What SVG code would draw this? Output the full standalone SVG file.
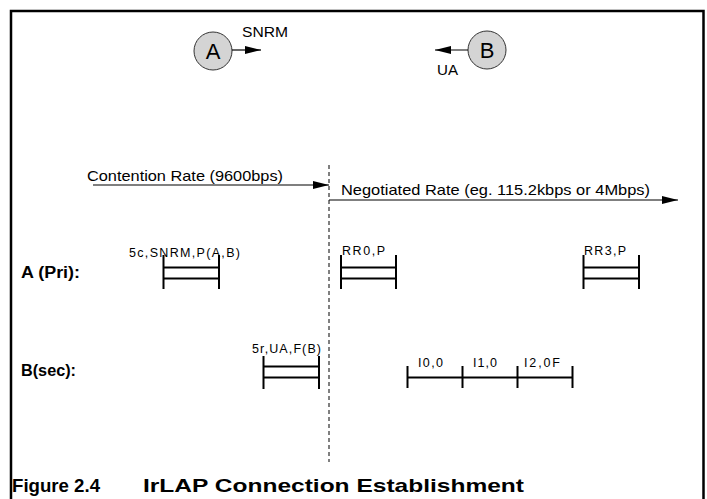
<svg xmlns="http://www.w3.org/2000/svg" width="707" height="499" viewBox="0 0 707 499">
<style>
.t{font-family:"Liberation Sans",Arial,sans-serif;fill:#000}
.n{font-size:15px}
.s{font-size:12.5px}
.b{font-size:16px;font-weight:bold}
.c{font-size:19px;font-weight:bold}
.bar{stroke:#000;stroke-width:2;fill:none}
.node{fill:#d4d4d4;stroke:#333;stroke-width:1}
.ln{stroke:#000;stroke-width:1.2;fill:none}
</style>
<defs>
<marker id="ah" markerWidth="16" markerHeight="8" refX="16" refY="4" orient="auto" markerUnits="userSpaceOnUse">
<path d="M0,0 L16,4 L0,8 Z" fill="#000"/>
</marker>
</defs>
<rect x="0" y="0" width="707" height="499" fill="#fff"/>
<path d="M11,499 V11 H703.5 V499" fill="none" stroke="#000" stroke-width="2.5"/>
<g id="nodeA">
<circle class="node" cx="213" cy="51" r="19"/>
<text class="t" x="213" y="59" font-size="22" text-anchor="middle">A</text>
</g>
<g id="nodeB">
<circle class="node" cx="487" cy="50" r="19"/>
<text class="t" x="487" y="58" font-size="22" text-anchor="middle">B</text>
</g>
<g id="connectors">
<line class="ln" x1="232" y1="50" x2="261" y2="50" marker-end="url(#ah)"/>
<line class="ln" x1="468" y1="50" x2="435" y2="50" marker-end="url(#ah)"/>
<line class="ln" x1="93" y1="185" x2="329" y2="185" marker-end="url(#ah)"/>
<line class="ln" x1="329" y1="200" x2="678" y2="200" marker-end="url(#ah)"/>
<line x1="329" y1="165" x2="329" y2="462" stroke="#000" stroke-width="1" stroke-dasharray="4,3"/>
</g>
<g id="labels">
<text class="t n" x="242" y="37" textLength="46" lengthAdjust="spacingAndGlyphs">SNRM</text>
<text class="t n" x="437" y="75" textLength="21" lengthAdjust="spacingAndGlyphs">UA</text>
<text class="t n" x="87" y="181" textLength="196" lengthAdjust="spacingAndGlyphs">Contention Rate (9600bps)</text>
<text class="t n" x="341" y="195" textLength="309" lengthAdjust="spacingAndGlyphs">Negotiated Rate (eg. 115.2kbps or 4Mbps)</text>
<text class="t b" x="21" y="278" textLength="59" lengthAdjust="spacingAndGlyphs">A (Pri):</text>
<text class="t b" x="21" y="376" textLength="55" lengthAdjust="spacingAndGlyphs">B(sec):</text>
</g>
<g id="frameA1">
<path class="bar" d="M163.5,255 V289 M219,255 V289 M163.5,267.5 H219 M163.5,278.5 H219"/>
<text class="t s" x="129" y="257" textLength="111" lengthAdjust="spacing">5c,SNRM,P(A,B)</text>
</g>
<g id="frameA2">
<path class="bar" d="M341,255 V289 M396,255 V289 M341,267.5 H396 M341,278.5 H396"/>
<text class="t s" x="342" y="255" textLength="43" lengthAdjust="spacing">RR0,P</text>
</g>
<g id="frameA3">
<path class="bar" d="M583.5,255 V289 M639,255 V289 M583.5,267.5 H639 M583.5,278.5 H639"/>
<text class="t s" x="584" y="255" textLength="42" lengthAdjust="spacing">RR3,P</text>
</g>
<g id="frameB1">
<path class="bar" d="M263.5,356 V389 M319,356 V389 M263.5,366.5 H319 M263.5,377.5 H319"/>
<text class="t s" x="252" y="353" textLength="69" lengthAdjust="spacing">5r,UA,F(B)</text>
</g>
<g id="frameB2">
<path class="bar" d="M407.5,366 V388 M462.5,366 V388 M517.5,366 V388 M572.5,366 V388 M407.5,377.5 H572.5"/>
<text class="t s" x="418" y="367" textLength="25" lengthAdjust="spacing">I0,0</text>
<text class="t s" x="473" y="367" textLength="24" lengthAdjust="spacing">I1,0</text>
<text class="t s" x="524" y="367" textLength="36" lengthAdjust="spacing">I2,0F</text>
</g>
<g id="caption">
<text class="t c" x="12" y="492" textLength="88" lengthAdjust="spacingAndGlyphs">Figure 2.4</text>
<text class="t c" x="143" y="492" textLength="381" lengthAdjust="spacingAndGlyphs">IrLAP Connection Establishment</text>
</g>
</svg>
